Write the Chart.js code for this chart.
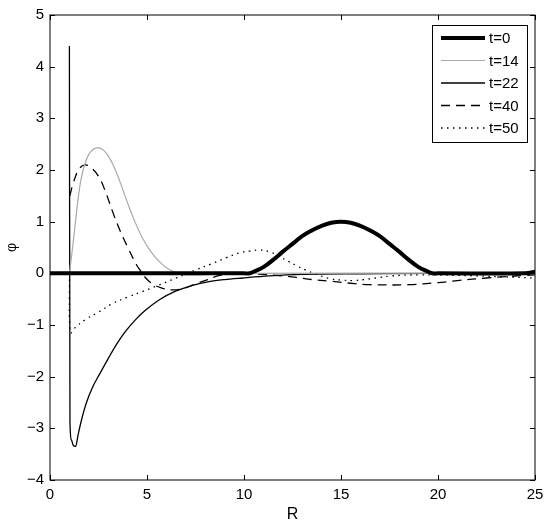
<!DOCTYPE html>
<html>
<head>
<meta charset="utf-8">
<script src="https://cdn.jsdelivr.net/npm/chart.js@4"></script>
<style>
  html, body { margin: 0; padding: 0; background: #fff; }
  #wrap { width: 550px; height: 529px; }
</style>
</head>
<body>
<div id="wrap"><canvas id="phiChart" width="550" height="529"></canvas></div>
<script>
// Valores
const seriesLabels = ['t=0', 't=14', 't=22', 't=40', 't=50'];

const rT0 = [0, 10, 10.3, 10.5, 11, 11.5, 12, 12.5, 13, 13.5, 14, 14.5, 15, 15.5, 16, 16.5, 17, 17.5, 18, 18.5, 19, 19.5, 19.7, 20, 24.5, 25];
const phiT0 = [0, 0, 0, 0.03, 0.12, 0.26, 0.42, 0.57, 0.72, 0.83, 0.92, 0.98, 1.0, 0.98, 0.92, 0.83, 0.72, 0.57, 0.42, 0.26, 0.12, 0.03, 0, 0, 0, 0.03];

const rT14 = [1.0, 1.1, 1.2, 1.3, 1.45, 1.6, 1.8, 2.05, 2.4, 2.8, 3.2, 3.6, 4.0, 4.4, 4.8, 5.2, 5.6, 6.0, 6.4, 6.8, 7.5, 8.2, 9, 25];
const phiT14 = [0, 0.3, 0.62, 0.95, 1.45, 1.82, 2.12, 2.33, 2.43, 2.37, 2.14, 1.78, 1.36, 0.98, 0.66, 0.42, 0.24, 0.11, 0.03, -0.02, -0.03, -0.02, 0, 0];

const rT22 = [1.0, 1.03, 1.1, 1.2, 1.32, 1.45, 1.65, 1.88, 2.2, 2.57, 3.0, 3.42, 3.9, 4.4, 4.9, 5.6, 6.5, 7.3, 8.2, 9.0, 9.92, 11.3, 13, 16, 20, 25];
const phiT22 = [4.4, -2.9, -3.22, -3.33, -3.35, -3.12, -2.8, -2.5, -2.2, -1.94, -1.65, -1.38, -1.12, -0.9, -0.72, -0.52, -0.34, -0.24, -0.16, -0.12, -0.09, -0.05, -0.02, -0.01, 0, 0];

const rT40 = [1.02, 1.2, 1.5, 1.8, 2.1, 2.5, 2.82, 3.3, 3.7, 4.05, 4.45, 4.7, 4.96, 5.3, 5.73, 6.25, 6.8, 7.53, 8.13, 8.56, 9, 10, 11, 12, 12.7, 13.5, 14.4, 15.7, 16.5, 18.5, 20, 21, 22.5, 24.5, 25];
const phiT40 = [1.5, 1.75, 2.02, 2.1, 2.05, 1.88, 1.62, 1.12, 0.75, 0.47, 0.17, 0.03, -0.1, -0.21, -0.28, -0.32, -0.3, -0.2, -0.12, -0.06, -0.02, -0.01, -0.02, -0.05, -0.08, -0.12, -0.15, -0.2, -0.22, -0.22, -0.18, -0.14, -0.09, -0.04, -0.03];

const rT50 = [1.0, 1.05, 1.3, 1.8, 2.5, 3.25, 4, 4.79, 5.6, 6.5, 7.1, 7.53, 8.3, 9.07, 9.8, 10.3, 10.8, 11.3, 11.8, 12.3, 12.7, 13.2, 13.6, 14.4, 15, 15.6, 16.2, 17, 17.6, 19, 21, 22, 23.5, 25];
const phiT50 = [0, -1.15, -1.05, -0.9, -0.75, -0.58, -0.46, -0.35, -0.23, -0.09, 0, 0.07, 0.18, 0.3, 0.4, 0.43, 0.45, 0.42, 0.33, 0.23, 0.15, 0.06, 0, -0.1, -0.13, -0.14, -0.12, -0.08, -0.05, -0.03, -0.04, -0.05, -0.07, -0.09];

const xTicks = [0, 5, 10, 15, 20, 25];
const yTicks = [-4, -3, -2, -1, 0, 1, 2, 3, 4, 5];

const fontFamily = "'Liberation Sans', Arial, Helvetica, sans-serif";

function toPoints(xs, ys) {
  return xs.map((x, i) => ({ x: x, y: ys[i] }));
}

function minusSign(v) {
  return String(v).replace('-', '\u2212');
}

// Moldura com marcas de escala para dentro (estilo MATLAB)
const framePlugin = {
  id: 'frame',
  afterDraw(chart) {
    const ctx = chart.ctx;
    const a = chart.chartArea;
    const xs = chart.scales.x, ys = chart.scales.y;
    const len = 5;
    ctx.save();
    ctx.strokeStyle = '#000';
    ctx.lineWidth = 1;
    ctx.strokeRect(a.left, a.top, a.right - a.left, a.bottom - a.top);
    ctx.beginPath();
    xTicks.forEach(v => {
      const px = Math.round(xs.getPixelForValue(v)) + 0.5;
      ctx.moveTo(px, a.bottom); ctx.lineTo(px, a.bottom - len);
      ctx.moveTo(px, a.top); ctx.lineTo(px, a.top + len);
    });
    yTicks.forEach(v => {
      const py = Math.round(ys.getPixelForValue(v)) + 0.5;
      ctx.moveTo(a.left, py); ctx.lineTo(a.left + len, py);
      ctx.moveTo(a.right, py); ctx.lineTo(a.right - len, py);
    });
    ctx.stroke();
    ctx.restore();
  }
};

// Legenda desenhada dentro da área do gráfico
const legendBoxPlugin = {
  id: 'legendBox',
  afterDraw(chart) {
    const ctx = chart.ctx;
    const a = chart.chartArea;
    const w = 95, h = 117;
    const left = a.right - 8 - w, top = a.top + 10;
    ctx.save();
    ctx.fillStyle = '#fff';
    ctx.fillRect(left, top, w, h);
    ctx.strokeStyle = '#000';
    ctx.lineWidth = 1;
    ctx.setLineDash([]);
    ctx.strokeRect(left + 0.5, top + 0.5, w, h);
    ctx.font = '15px ' + fontFamily;
    ctx.textBaseline = 'middle';
    chart.data.datasets.forEach((ds, i) => {
      const y = top + 13 + i * 22.5;
      ctx.beginPath();
      ctx.strokeStyle = ds.borderColor;
      ctx.lineWidth = ds.borderWidth;
      ctx.setLineDash(ds.borderDash || []);
      ctx.moveTo(left + 9, y);
      ctx.lineTo(left + 53, y);
      ctx.stroke();
      ctx.setLineDash([]);
      ctx.fillStyle = '#000';
      ctx.fillText(ds.label, left + 57, y + 1);
    });
    ctx.restore();
  }
};

const ctxPhi = document.getElementById('phiChart').getContext('2d');
const phiChart = new Chart(ctxPhi, {
  type: 'scatter',
  data: {
    datasets: [
      { label: seriesLabels[0], data: toPoints(rT0, phiT0), borderColor: '#000', borderWidth: 4, tension: 0.4 },
      { label: seriesLabels[1], data: toPoints(rT14, phiT14), borderColor: '#aaaaaa', borderWidth: 1.2, tension: 0.4 },
      { label: seriesLabels[2], data: toPoints(rT22, phiT22), borderColor: '#000', borderWidth: 1.3, cubicInterpolationMode: 'monotone' },
      { label: seriesLabels[3], data: toPoints(rT40, phiT40), borderColor: '#000', borderWidth: 1.3, borderDash: [9, 6], tension: 0.4 },
      { label: seriesLabels[4], data: toPoints(rT50, phiT50), borderColor: '#000', borderWidth: 1.3, borderDash: [1.5, 4.5], tension: 0.4 }
    ]
  },
  options: {
    responsive: false,
    animation: false,
    showLine: true,
    elements: {
      point: { radius: 0, hoverRadius: 0 },
      line: { fill: false, borderCapStyle: 'butt' }
    },
    layout: { padding: { top: 14, right: 15, left: 0, bottom: 0 } },
    plugins: {
      legend: { display: false },
      tooltip: { enabled: false }
    },
    scales: {
      x: {
        type: 'linear',
        min: 0, max: 25,
        afterBuildTicks: s => { s.ticks = xTicks.map(v => ({ value: v })); },
        afterFit: s => { s.height = 49; },
        grid: { display: false, drawTicks: false },
        border: { display: false },
        ticks: {
          color: '#000', padding: 6,
          font: { family: fontFamily, size: 15 },
          callback: v => minusSign(v)
        },
        title: {
          display: true, text: 'R', color: '#000',
          font: { family: fontFamily, size: 16 },
          padding: { top: 0, bottom: 5 }
        }
      },
      y: {
        type: 'linear',
        min: -4, max: 5,
        afterBuildTicks: s => { s.ticks = yTicks.map(v => ({ value: v })); },
        afterFit: s => { s.width = 50; },
        grid: { display: false, drawTicks: false },
        border: { display: false },
        ticks: {
          color: '#000', padding: 6,
          font: { family: fontFamily, size: 15 },
          callback: v => minusSign(v)
        },
        title: {
          display: true, text: 'φ', color: '#000',
          font: { family: fontFamily, size: 14 },
          padding: { top: 4, bottom: 4 }
        }
      }
    }
  },
  plugins: [framePlugin, legendBoxPlugin]
});
</script>
</body>
</html>
